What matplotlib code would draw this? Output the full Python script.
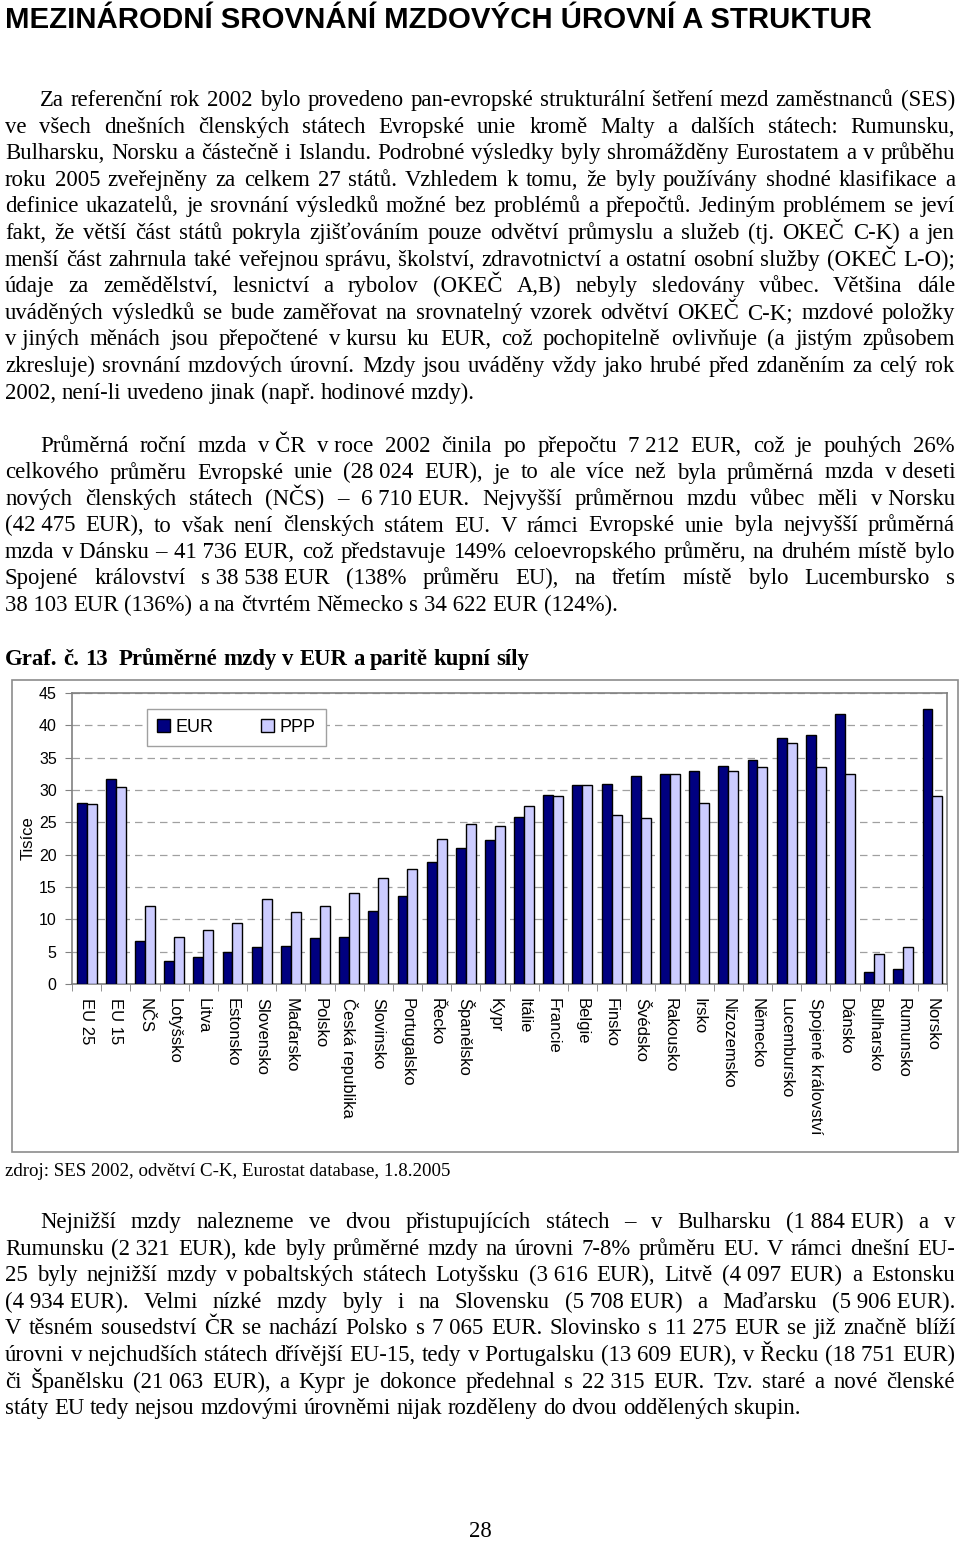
import matplotlib
matplotlib.use("Agg")
import matplotlib.pyplot as plt
import numpy as np
from matplotlib.patches import Rectangle, Patch

W, H = 960, 1541
NB = "\u00a0"

countries = ["EU 25", "EU 15", "NČS", "Lotyšsko", "Litva", "Estonsko", "Slovensko",
             "Maďarsko", "Polsko", "Česká republika", "Slovinsko", "Portugalsko",
             "Řecko", "Španělsko", "Kypr", "Itálie", "Francie", "Belgie", "Finsko",
             "Švédsko", "Rakousko", "Irsko", "Nizozemsko", "Německo", "Lucembursko",
             "Spojené království", "Dánsko", "Bulharsko", "Rumunsko", "Norsko"]
eur = [28.0, 31.7, 6.7, 3.6, 4.1, 4.9, 5.7, 5.9, 7.1, 7.2, 11.3, 13.6, 18.8, 21.1,
       22.3, 25.9, 29.2, 30.8, 31.0, 32.1, 32.5, 33.0, 33.7, 34.6, 38.1, 38.5, 41.7,
       1.9, 2.3, 42.5]
ppp = [27.9, 30.5, 12.1, 7.3, 8.4, 9.5, 13.2, 11.1, 12.0, 14.0, 16.4, 17.8, 22.5, 24.8,
       24.4, 27.5, 29.0, 30.7, 26.1, 25.7, 32.5, 28.0, 33.0, 33.5, 37.3, 33.5, 32.5,
       4.7, 5.7, 29.1]
yticks = [0, 5, 10, 15, 20, 25, 30, 35, 40, 45]

title = "MEZINÁRODNÍ SROVNÁNÍ MZDOVÝCH ÚROVNÍ A STRUKTUR"
para1 = [
    "Za referenční rok 2002 bylo provedeno pan-evropské strukturální šetření mezd zaměstnanců (SES)",
    "ve všech dnešních členských státech Evropské unie kromě Malty a dalších státech: Rumunsku,",
    "Bulharsku, Norsku a částečně i Islandu. Podrobné výsledky byly shromážděny Eurostatem a v průběhu",
    "roku 2005 zveřejněny za celkem 27 států. Vzhledem k tomu, že byly používány shodné klasifikace a",
    "definice ukazatelů, je srovnání výsledků možné bez problémů a přepočtů. Jediným problémem se jeví",
    "fakt, že větší část států pokryla zjišťováním pouze odvětví průmyslu a služeb (tj. OKEČ C-K) a jen",
    "menší část zahrnula také veřejnou správu, školství, zdravotnictví a ostatní osobní služby (OKEČ L-O);",
    "údaje za zemědělství, lesnictví a rybolov (OKEČ A,B) nebyly sledovány vůbec. Většina dále",
    "uváděných výsledků se bude zaměřovat na srovnatelný vzorek odvětví OKEČ C-K; mzdové položky",
    "v" + NB + "jiných měnách jsou přepočtené v" + NB + "kursu ku EUR, což pochopitelně ovlivňuje (a jistým způsobem",
    "zkresluje) srovnání mzdových úrovní. Mzdy jsou uváděny vždy jako hrubé před zdaněním za celý rok",
    "2002, není-li uvedeno jinak (např. hodinové mzdy).",
]
para2 = [
    "Průměrná roční mzda v" + NB + "ČR v" + NB + "roce 2002 činila po přepočtu 7" + NB + "212 EUR, což je pouhých 26%",
    "celkového průměru Evropské unie (28" + NB + "024 EUR), je to ale více než byla průměrná mzda v" + NB + "deseti",
    "nových členských státech (NČS) – 6" + NB + "710" + NB + "EUR. Nejvyšší průměrnou mzdu vůbec měli v" + NB + "Norsku",
    "(42" + NB + "475 EUR), to však není členských státem EU. V rámci Evropské unie byla nejvyšší průměrná",
    "mzda v" + NB + "Dánsku – 41" + NB + "736 EUR, což představuje 149% celoevropského průměru, na druhém místě bylo",
    "Spojené království s" + NB + "38" + NB + "538" + NB + "EUR (138% průměru EU), na třetím místě bylo Lucembursko s",
    "38" + NB + "103 EUR (136%) a na čtvrtém Německo s 34" + NB + "622 EUR (124%).",
]
graf_title = "Graf. č. 13  Průměrné mzdy v EUR a paritě kupní síly"
source = "zdroj: SES 2002, odvětví C-K, Eurostat database, 1.8.2005"
para3 = [
    "Nejnižší mzdy nalezneme ve dvou přistupujících státech – v Bulharsku (1" + NB + "884" + NB + "EUR) a v",
    "Rumunsku (2" + NB + "321 EUR), kde byly průměrné mzdy na úrovni 7-8% průměru EU. V rámci dnešní EU-",
    "25 byly nejnižší mzdy v" + NB + "pobaltských státech Lotyšsku (3" + NB + "616 EUR), Litvě (4" + NB + "097 EUR) a Estonsku",
    "(4" + NB + "934" + NB + "EUR). Velmi nízké mzdy byly i na Slovensku (5" + NB + "708" + NB + "EUR) a Maďarsku (5" + NB + "906" + NB + "EUR).",
    "V těsném sousedství ČR se nachází Polsko s 7" + NB + "065 EUR. Slovinsko s 11" + NB + "275 EUR se již značně blíží",
    "úrovni v" + NB + "nejchudších státech dřívější EU-15, tedy v" + NB + "Portugalsku (13" + NB + "609 EUR), v" + NB + "Řecku (18" + NB + "751 EUR)",
    "či Španělsku (21" + NB + "063 EUR), a Kypr je dokonce předehnal s 22" + NB + "315 EUR. Tzv. staré a nové členské",
    "státy EU tedy nejsou mzdovými úrovněmi nijak rozděleny do dvou oddělených skupin.",
]

SERIF = ["Liberation Serif", "DejaVu Serif"]
SANS = ["Liberation Sans", "DejaVu Sans"]
BODY = 16.4

fig = plt.figure(figsize=(W / 100, H / 100), dpi=100)
fig.patch.set_facecolor("white")
renderer = fig.canvas.get_renderer()


def fy(y):
    return 1 - y / H


def fx(x):
    return x / W


def draw_line(text, x0, x1, y, justify, size=BODY, weight="normal"):
    words = text.split(" ")
    objs = [fig.text(0, 0, w.replace(NB, " "), fontsize=size, family=SERIF,
                     weight=weight, va="baseline", ha="left") for w in words]
    widths = [o.get_window_extent(renderer).width for o in objs]
    space = size * 100 / 72 * 0.25
    if justify and len(words) > 1:
        gap = (x1 - x0 - sum(widths)) / (len(words) - 1)
    else:
        gap = space
    x = x0
    for o, w in zip(objs, widths):
        o.set_position((fx(x), fy(y)))
        x += w + gap


def draw_para(lines, y0, step, indent=40, left=5, right=955):
    for i, ln in enumerate(lines):
        x0 = left + (indent - left if i == 0 else 0)
        draw_line(ln, x0, right, y0 + i * step, justify=(i < len(lines) - 1))


# title
fig.text(fx(5), fy(28), title, fontsize=21.2, weight="bold",
         family=["Liberation Sans Narrow", "Liberation Sans", "DejaVu Sans"],
         va="baseline", ha="left")

draw_para(para1, 106, 26.6)
draw_para(para2, 452, 26.5)
draw_line(graf_title, 5, 955, 665, False, weight="bold")
fig.text(fx(5), fy(1176), source, fontsize=13.6, family=SERIF, va="baseline", ha="left")
draw_para(para3, 1228, 26.6)
fig.text(fx(480), fy(1537), "28", fontsize=BODY, family=SERIF, va="baseline", ha="center")

# chart outer frame
fig.patches.append(Rectangle((fx(12), fy(1152)), fx(958) - fx(12), fy(680) - fy(1152),
                             transform=fig.transFigure, fill=False,
                             edgecolor="#8c8c8c", linewidth=1.2))

# chart axes
ax = fig.add_axes([fx(72), fy(984), fx(947) - fx(72), fy(693) - fy(984)])
x = np.arange(len(countries))
bw = 0.34
ax.bar(x - bw / 2, eur, bw, color="#000080", edgecolor="black", linewidth=1.0,
       label="EUR", zorder=3)
ax.bar(x + bw / 2, ppp, bw, color="#CCCCFF", edgecolor="black", linewidth=1.0,
       label="PPP", zorder=3)
ax.set_xlim(-0.5, len(countries) - 0.5)
ax.set_ylim(0, 45)
ax.set_yticks(yticks)
ax.set_yticklabels([str(v) for v in yticks], fontsize=11.5, family=SANS)
ax.yaxis.grid(True, linestyle=(0, (6, 4)), color="#a0a0a0", linewidth=0.9, zorder=0)
ax.set_axisbelow(True)
ax.set_xticks(x)
ax.set_xticklabels(countries, rotation=270, fontsize=12, family=SANS, va="top", ha="center")
ax.set_xticks(np.arange(-0.5, len(countries), 1), minor=True)
ax.tick_params(axis="x", which="major", length=0, pad=10)
ax.tick_params(axis="x", which="minor", length=5, color="#808080", direction="out")
ax.tick_params(axis="y", length=5, color="#808080", pad=6)
for s in ax.spines.values():
    s.set_color("#808080")
    s.set_linewidth(1.2)
ax.set_ylabel("Tisíce", fontsize=12, family=SANS, labelpad=2)
leg = ax.legend(handles=[Patch(facecolor="#000080", edgecolor="black", label="EUR"),
                         Patch(facecolor="#CCCCFF", edgecolor="black", label="PPP")],
                loc="upper left", bbox_to_anchor=(0.0857, 0.945), ncol=2,
                prop={"family": SANS, "size": 13}, frameon=True, fancybox=False,
                edgecolor="#a0a0a0", framealpha=1, borderaxespad=0,
                handlelength=0.75, handleheight=0.75, handletextpad=0.3,
                columnspacing=2.6, borderpad=0.55)
leg.get_frame().set_linewidth(1.0)

fig.savefig("out.png", dpi=100, facecolor="white")
